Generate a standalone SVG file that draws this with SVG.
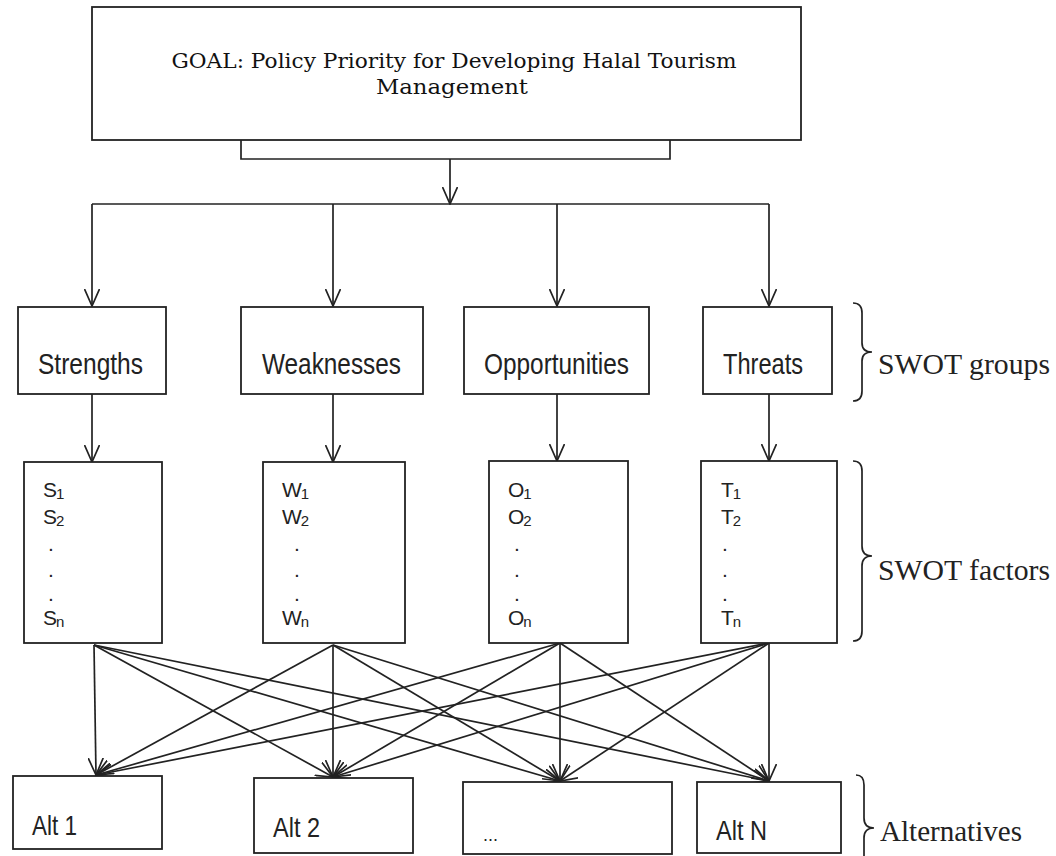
<svg xmlns="http://www.w3.org/2000/svg" width="1056" height="856" viewBox="0 0 1056 856">
<style>
.box{fill:#fff;stroke:#222;stroke-width:1.8}
.ln{fill:none;stroke:#222;stroke-width:1.7}
.arr{fill:none;stroke:#222;stroke-width:1.7;marker-end:url(#v)}
.goal{font-family:"DejaVu Serif","Liberation Serif",serif;font-size:20px;fill:#111}
.grp{font-family:"Liberation Sans",Arial,sans-serif;font-size:29px;fill:#222}
.fac{font-family:"Liberation Sans",Arial,sans-serif;font-size:21px;fill:#222}
.sub{font-size:15px}
.alt{font-family:"Liberation Sans",Arial,sans-serif;font-size:28px;fill:#222}
.lab{font-family:"Liberation Serif","Times New Roman",serif;font-size:30px;fill:#222}
.brace{fill:none;stroke:#222;stroke-width:1.7}
</style>
<defs>
<marker id="v" viewBox="0 0 18 16" refX="17" refY="8" markerWidth="18" markerHeight="16" markerUnits="userSpaceOnUse" orient="auto">
<path d="M0,0.5 L17,8 L0,15.5" fill="none" stroke="#222" stroke-width="1.7"/>
</marker>
</defs>
<rect width="1056" height="856" fill="#fff"/>

<g id="connectors">
<path class="ln" d="M241,140 V159 H670 V140"/>
<path class="arr" d="M450,159 V204"/>
<path class="ln" d="M92,204 H769"/>
<path class="arr" d="M92,204 V306"/>
<path class="arr" d="M333,204 V306"/>
<path class="arr" d="M557,204 V306"/>
<path class="arr" d="M769,204 V306"/>
<path class="arr" d="M92,394 V462"/>
<path class="arr" d="M333,394 V462"/>
<path class="arr" d="M557,394 V461"/>
<path class="arr" d="M769,394 V461"/>
<path class="arr" d="M94,645 L96,775"/>
<path class="arr" d="M94,645 L333,777"/>
<path class="arr" d="M94,645 L560,781"/>
<path class="arr" d="M94,645 L769,781"/>
<path class="arr" d="M333,645 L96,775"/>
<path class="arr" d="M333,645 L333,777"/>
<path class="arr" d="M333,645 L560,781"/>
<path class="arr" d="M333,645 L769,781"/>
<path class="arr" d="M560,643 L96,775"/>
<path class="arr" d="M560,643 L333,777"/>
<path class="arr" d="M560,643 L560,781"/>
<path class="arr" d="M560,643 L769,781"/>
<path class="arr" d="M769,643 L96,775"/>
<path class="arr" d="M769,643 L333,777"/>
<path class="arr" d="M769,643 L560,781"/>
<path class="arr" d="M769,643 L769,781"/>
</g>

<g id="goal">
<rect class="box" x="92" y="7" width="709" height="133"/>
<text class="goal" x="454" y="68" text-anchor="middle" textLength="565" lengthAdjust="spacingAndGlyphs">GOAL: Policy Priority for Developing Halal Tourism</text>
<text class="goal" x="452" y="94" text-anchor="middle" textLength="152" lengthAdjust="spacingAndGlyphs">Management</text>
</g>

<g id="strengths">
<rect class="box" x="18" y="307" width="148" height="87"/>
<text class="grp" x="38" y="374" textLength="105" lengthAdjust="spacingAndGlyphs">Strengths</text>
</g>
<g id="weaknesses">
<rect class="box" x="241" y="307" width="182" height="87"/>
<text class="grp" x="262" y="374" textLength="139" lengthAdjust="spacingAndGlyphs">Weaknesses</text>
</g>
<g id="opportunities">
<rect class="box" x="464" y="307" width="185" height="87"/>
<text class="grp" x="484" y="374" textLength="145" lengthAdjust="spacingAndGlyphs">Opportunities</text>
</g>
<g id="threats">
<rect class="box" x="703" y="307" width="129" height="87"/>
<text class="grp" x="723" y="374" textLength="80" lengthAdjust="spacingAndGlyphs">Threats</text>
</g>

<g id="s-factors">
<rect class="box" x="24" y="462" width="138" height="181"/>
<text class="fac" x="43" y="497">S<tspan class="sub" dx="-1" dy="2">1</tspan></text>
<text class="fac" x="43" y="524">S<tspan class="sub" dx="-1" dy="2">2</tspan></text>
<text class="fac" x="48" y="551">.</text>
<text class="fac" x="48" y="577">.</text>
<text class="fac" x="48" y="601">.</text>
<text class="fac" x="43" y="625">S<tspan class="sub" dx="-1" dy="2">n</tspan></text>
</g>
<g id="w-factors">
<rect class="box" x="263" y="462" width="142" height="181"/>
<text class="fac" x="282" y="497">W<tspan class="sub" dx="-1" dy="2">1</tspan></text>
<text class="fac" x="282" y="524">W<tspan class="sub" dx="-1" dy="2">2</tspan></text>
<text class="fac" x="294" y="551">.</text>
<text class="fac" x="294" y="577">.</text>
<text class="fac" x="294" y="601">.</text>
<text class="fac" x="282" y="625">W<tspan class="sub" dx="-1" dy="2">n</tspan></text>
</g>
<g id="o-factors">
<rect class="box" x="489" y="461" width="139" height="182"/>
<text class="fac" x="508" y="497">O<tspan class="sub" dx="-1" dy="2">1</tspan></text>
<text class="fac" x="508" y="524">O<tspan class="sub" dx="-1" dy="2">2</tspan></text>
<text class="fac" x="514" y="551">.</text>
<text class="fac" x="514" y="577">.</text>
<text class="fac" x="514" y="601">.</text>
<text class="fac" x="508" y="625">O<tspan class="sub" dx="-1" dy="2">n</tspan></text>
</g>
<g id="t-factors">
<rect class="box" x="701" y="461" width="136" height="182"/>
<text class="fac" x="721" y="497">T<tspan class="sub" dx="-1" dy="2">1</tspan></text>
<text class="fac" x="721" y="524">T<tspan class="sub" dx="-1" dy="2">2</tspan></text>
<text class="fac" x="722" y="551">.</text>
<text class="fac" x="722" y="577">.</text>
<text class="fac" x="722" y="601">.</text>
<text class="fac" x="721" y="625">T<tspan class="sub" dx="-1" dy="2">n</tspan></text>
</g>

<g id="alt1">
<rect class="box" x="13" y="776" width="149" height="73"/>
<text class="alt" x="32" y="835" textLength="45" lengthAdjust="spacingAndGlyphs">Alt 1</text>
</g>
<g id="alt2">
<rect class="box" x="254" y="778" width="159" height="75"/>
<text class="alt" x="273" y="837" textLength="47" lengthAdjust="spacingAndGlyphs">Alt 2</text>
</g>
<g id="alt-more">
<rect class="box" x="463" y="782" width="209" height="72"/>
<text class="alt" x="483" y="841" style="font-size:18px">...</text>
</g>
<g id="altN">
<rect class="box" x="697" y="782" width="144" height="71"/>
<text class="alt" x="716" y="840" textLength="51" lengthAdjust="spacingAndGlyphs">Alt N</text>
</g>

<g id="label-groups">
<path class="brace" d="M853,303 Q862,303 862,313 L862,343 Q862,352 872,352 Q862,352 862,361 L862,391 Q862,401 853,401"/>
<text class="lab" x="878" y="374" textLength="172" lengthAdjust="spacingAndGlyphs">SWOT groups</text>
</g>
<g id="label-factors">
<path class="brace" d="M853,461 Q862,461 862,471 L862,546 Q862,556 872,556 Q862,556 862,566 L862,631 Q862,641 853,641"/>
<text class="lab" x="878" y="580" textLength="172" lengthAdjust="spacingAndGlyphs">SWOT factors</text>
</g>
<g id="label-alternatives">
<path class="brace" d="M856,775 Q864,775 864,785 L864,818 Q864,828 874,828 Q864,828 864,838 L864,856"/>
<text class="lab" x="880" y="841" textLength="142" lengthAdjust="spacingAndGlyphs">Alternatives</text>
</g>
</svg>
